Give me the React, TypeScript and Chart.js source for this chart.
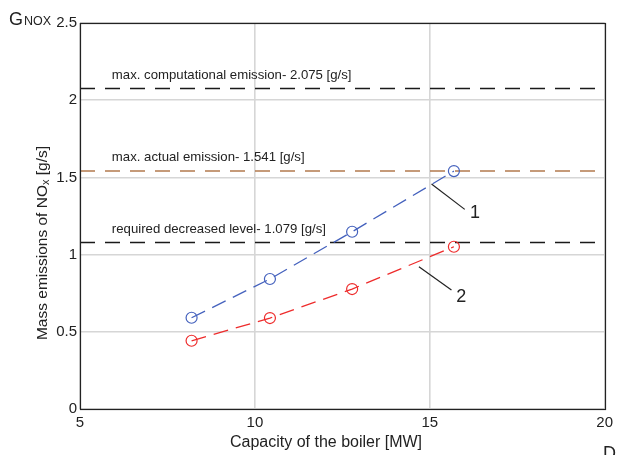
import React, { useEffect, useRef } from "react";
import { Chart, registerables } from "chart.js";

Chart.register(...registerables);

const capacity = [8.19, 10.43, 12.78, 15.69];
const series1 = [0.591, 0.842, 1.148, 1.541];
const series2 = [0.442, 0.589, 0.777, 1.051];
const refLevels = [2.075, 1.541, 1.079];
const refLabels = [
  "max. computational emission- 2.075 [g/s]",
  "max. actual emission- 1.541 [g/s]",
  "required decreased level- 1.079 [g/s]",
];
const refColors = ["#1a1a1a", "#b27a4e", "#1a1a1a"];
const xRange = [5, 20];
const xTicks = [5, 10, 15, 20];
const yTicks = [0, 0.5, 1, 1.5, 2, 2.5];
// leader lines: [x1,y1,x2,y2,labelX,labelY,label]
const leaders: [number, number, number, number, number, number, string][] = [
  [15.05, 1.457, 16.0, 1.293, 16.29, 1.271, "1"],
  [14.69, 0.922, 15.62, 0.771, 15.9, 0.727, "2"],
];

const FONT = "Arial, 'Liberation Sans', sans-serif";

const overlay = {
  id: "overlay",
  afterDraw(chart: any) {
    const ctx = chart.ctx;
    const xs = chart.scales.x;
    const ys = chart.scales.y;
    const a = chart.chartArea;
    ctx.save();
    // frame
    ctx.strokeStyle = "#222";
    ctx.lineWidth = 1.2;
    ctx.strokeRect(Math.round(a.left) + 0.5, Math.round(a.top) + 0.5, Math.round(a.right - a.left), Math.round(a.bottom - a.top));
    // reference labels
    ctx.fillStyle = "#222";
    ctx.font = `13.2px ${FONT}`;
    ctx.textBaseline = "middle";
    ctx.textAlign = "left";
    refLevels.forEach((v, i) => {
      ctx.fillText(refLabels[i], xs.getPixelForValue(5.91), ys.getPixelForValue(v) - 13.5);
    });
    // leader lines
    ctx.strokeStyle = "#222";
    ctx.lineWidth = 1.2;
    ctx.font = `18px ${FONT}`;
    ctx.textAlign = "center";
    leaders.forEach(([x1, y1, x2, y2, lx, ly, t]) => {
      ctx.beginPath();
      ctx.moveTo(xs.getPixelForValue(x1), ys.getPixelForValue(y1));
      ctx.lineTo(xs.getPixelForValue(x2), ys.getPixelForValue(y2));
      ctx.stroke();
      ctx.fillText(t, xs.getPixelForValue(lx), ys.getPixelForValue(ly));
    });
    // G_NOX
    ctx.textAlign = "left";
    ctx.textBaseline = "alphabetic";
    ctx.font = `18px ${FONT}`;
    ctx.fillText("G", 9, 25);
    const gw = ctx.measureText("G").width;
    ctx.font = `12.5px ${FONT}`;
    ctx.fillText("NOX", 10 + gw, 25);
    // D_r
    ctx.font = `18px ${FONT}`;
    ctx.fillText("D", 603, 459);
    const dw = ctx.measureText("D").width;
    ctx.font = `13px ${FONT}`;
    ctx.fillText("r", 603 + dw, 462);
    // x title
    ctx.font = `16px ${FONT}`;
    ctx.textAlign = "center";
    ctx.textBaseline = "middle";
    ctx.fillText("Capacity of the boiler [MW]", 326, 443);
    // y title
    ctx.translate(42, 243);
    ctx.rotate(-Math.PI / 2);
    const p1 = "Mass emissions of NO";
    const p2 = "x";
    const p3 = " [g/s]";
    ctx.font = `15.5px ${FONT}`;
    const w1 = ctx.measureText(p1).width;
    const w3 = ctx.measureText(p3).width;
    ctx.font = `11px ${FONT}`;
    const w2 = ctx.measureText(p2).width;
    const total = w1 + w2 + w3;
    let x0 = -total / 2;
    ctx.textAlign = "left";
    ctx.textBaseline = "alphabetic";
    ctx.font = `15.5px ${FONT}`;
    ctx.fillText(p1, x0, 5);
    x0 += w1;
    ctx.font = `11px ${FONT}`;
    ctx.fillText(p2, x0, 7);
    x0 += w2;
    ctx.font = `15.5px ${FONT}`;
    ctx.fillText(p3, x0, 5);
    ctx.restore();
  },
};

export default function App() {
  const ref = useRef<HTMLCanvasElement>(null);
  useEffect(() => {
    if (!ref.current) return;
    const pts = (ys: number[]) => capacity.map((x, i) => ({ x, y: ys[i] }));
    const refSets = refLevels.map((v, i) => ({
      data: [
        { x: xRange[0], y: v },
        { x: xRange[1], y: v },
      ],
      borderColor: refColors[i],
      borderWidth: 1.5,
      borderDash: [15, 10],
      pointRadius: 0,
      showLine: true,
      order: 2,
    }));
    const chart = new Chart(ref.current, {
      type: "scatter",
      data: {
        datasets: [
          ...refSets,
          {
            data: pts(series1),
            borderColor: "#4461bd",
            borderWidth: 1.3,
            borderDash: [15, 8],
            showLine: true,
            pointRadius: 5.5,
            pointBorderWidth: 1.2,
            pointBackgroundColor: "rgba(0,0,0,0)",
            pointBorderColor: "#4461bd",
            order: 1,
          },
          {
            data: pts(series2),
            borderColor: "#ee2c2c",
            borderWidth: 1.3,
            borderDash: [15, 8],
            showLine: true,
            pointRadius: 5.5,
            pointBorderWidth: 1.2,
            pointBackgroundColor: "rgba(0,0,0,0)",
            pointBorderColor: "#ee2c2c",
            order: 1,
          },
        ] as any,
      },
      options: {
        animation: false,
        responsive: false,
        maintainAspectRatio: false,
        layout: { padding: { left: 0, right: 13, top: 23, bottom: 0 } },
        plugins: { legend: { display: false }, tooltip: { enabled: false } },
        scales: {
          x: {
            type: "linear",
            min: xRange[0],
            max: xRange[1],
            afterFit: (s: any) => {
              s.height = 46;
            },
            afterBuildTicks: (s: any) => {
              s.ticks = xTicks.map((v) => ({ value: v }));
            },
            ticks: {
              color: "#222",
              font: { size: 15, family: FONT },
              padding: 5,
              maxRotation: 0,
            },
            grid: { color: "#d6d6d6", lineWidth: 1.6, drawTicks: false },
            border: { display: false },
          },
          y: {
            type: "linear",
            min: 0,
            max: 2.5,
            afterFit: (s: any) => {
              s.width = 80;
            },
            afterBuildTicks: (s: any) => {
              s.ticks = yTicks.map((v) => ({ value: v }));
            },
            ticks: {
              color: "#222",
              font: { size: 15, family: FONT },
              padding: 3,
              callback: (v: any) => String(v),
            },
            grid: { color: "#d6d6d6", lineWidth: 1.6, drawTicks: false },
            border: { display: false },
          },
        },
      },
      plugins: [overlay],
    });
    return () => chart.destroy();
  }, []);
  return (
    <div style={{ position: "fixed", left: 0, top: 0, width: 618, height: 455, background: "#fff" }}>
      <canvas ref={ref} width={618} height={455} style={{ width: 618, height: 455 }} />
    </div>
  );
}
